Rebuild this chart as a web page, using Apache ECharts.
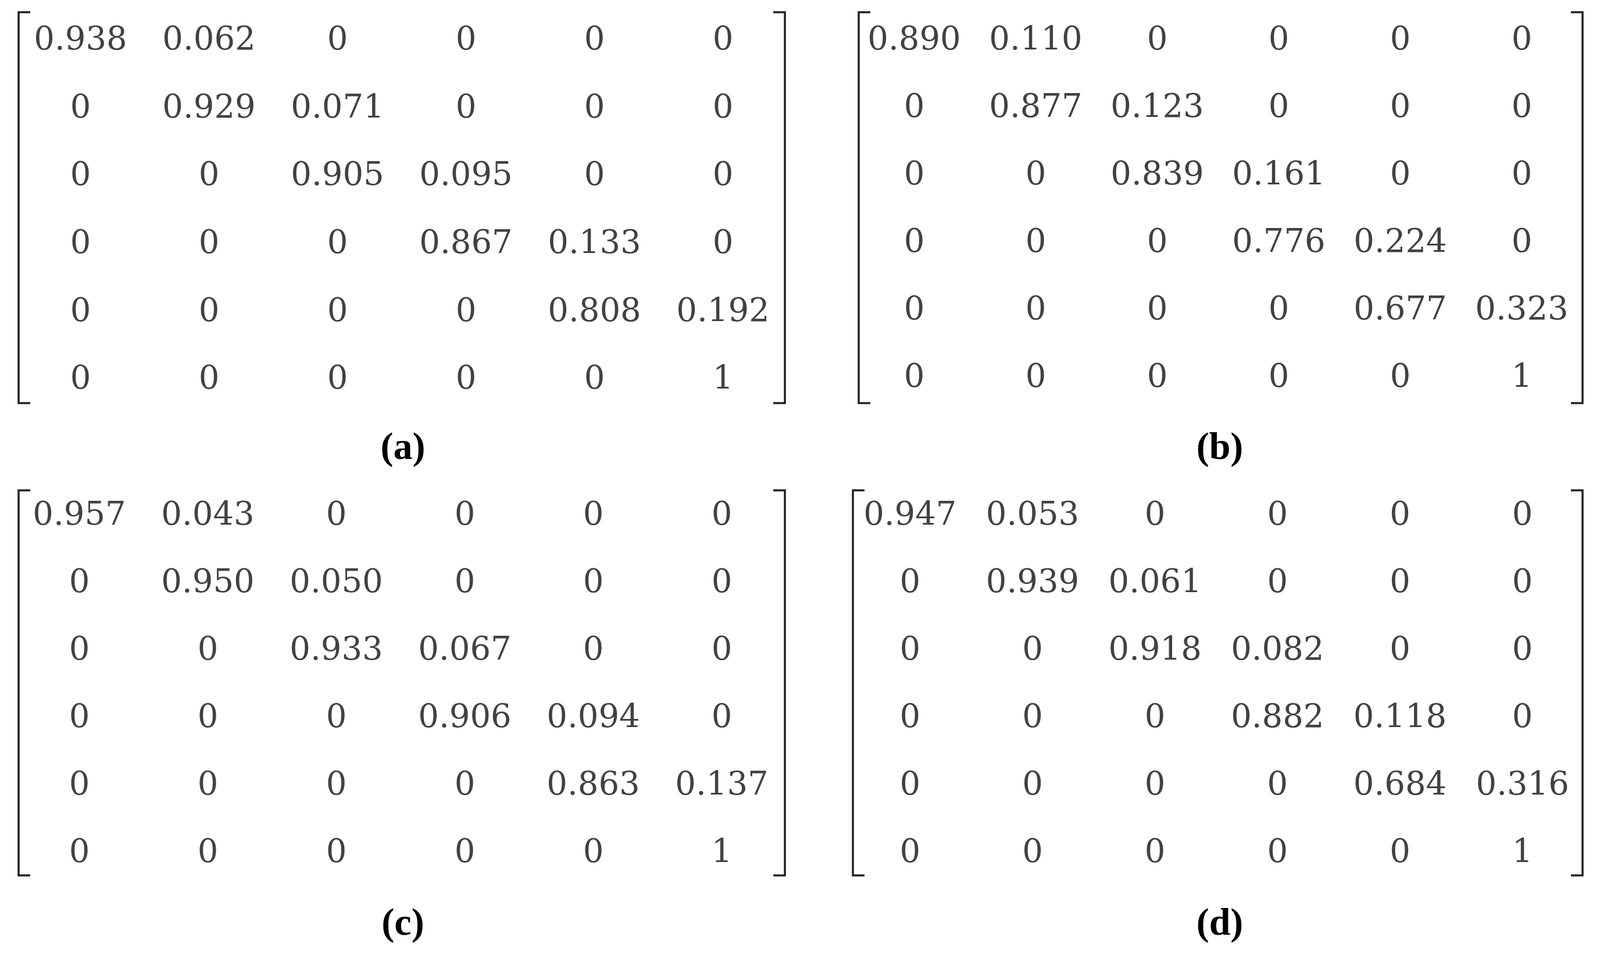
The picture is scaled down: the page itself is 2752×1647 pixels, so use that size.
<!DOCTYPE html>
<html><head><meta charset="utf-8">
<script src="https://cdn.jsdelivr.net/npm/echarts@6/dist/echarts.min.js"></script>
<style>html,body{margin:0;background:#fff}#c{width:2752px;height:1647px}</style>
</head><body><div id="c"></div>
<script>
const matA = [
 ["0.938","0.062","0","0","0","0"],
 ["0","0.929","0.071","0","0","0"],
 ["0","0","0.905","0.095","0","0"],
 ["0","0","0","0.867","0.133","0"],
 ["0","0","0","0","0.808","0.192"],
 ["0","0","0","0","0","1"]];
const matB = [
 ["0.890","0.110","0","0","0","0"],
 ["0","0.877","0.123","0","0","0"],
 ["0","0","0.839","0.161","0","0"],
 ["0","0","0","0.776","0.224","0"],
 ["0","0","0","0","0.677","0.323"],
 ["0","0","0","0","0","1"]];
const matC = [
 ["0.957","0.043","0","0","0","0"],
 ["0","0.950","0.050","0","0","0"],
 ["0","0","0.933","0.067","0","0"],
 ["0","0","0","0.906","0.094","0"],
 ["0","0","0","0","0.863","0.137"],
 ["0","0","0","0","0","1"]];
const matD = [
 ["0.947","0.053","0","0","0","0"],
 ["0","0.939","0.061","0","0","0"],
 ["0","0","0.918","0.082","0","0"],
 ["0","0","0","0.882","0.118","0"],
 ["0","0","0","0","0.684","0.316"],
 ["0","0","0","0","0","1"]];
const panelLabels = ["(a)","(b)","(c)","(d)"];
const mats = [matA, matB, matC, matD];
const idx = [0,1,2,3,4,5];

const grids = [
 {left:28, top:12, width:1326, height:700},
 {left:1468, top:12, width:1254, height:697},
 {left:26, top:829, width:1326, height:697},
 {left:1460, top:829, width:1264, height:697}
];
const brackets = [
 {l:32,r:1350,t:21,b:693},
 {l:1477,r:2722,t:21,b:693},
 {l:32,r:1350,t:843,b:1505},
 {l:1467,r:2722,t:843,b:1505}
];
const labelPos = [[693,772],[2098,772],[693,1590],[2098,1590]];
const font = '"DejaVu Serif","Liberation Serif",serif';
const chart = echarts.init(document.getElementById('c'));
const xAxis=[], yAxis=[], series=[], graphic=[];
mats.forEach((m,k)=>{
  xAxis.push({type:'category',data:idx,gridIndex:k,show:false});
  yAxis.push({type:'category',data:idx,gridIndex:k,show:false,inverse:true});
  const data=[];
  m.forEach((row,r)=>row.forEach((v,c)=>data.push([c,r,v])));
  series.push({type:'scatter',xAxisIndex:k,yAxisIndex:k,symbolSize:0,data,
    label:{show:true,position:'inside',formatter:p=>p.value[2],fontFamily:font,fontSize:56,color:'#111'}});
  const b=brackets[k], w=20, st={stroke:'#222',lineWidth:3.5,fill:null};
  graphic.push({type:'polyline',shape:{points:[[b.l+w,b.t],[b.l,b.t],[b.l,b.b],[b.l+w,b.b]]},style:st});
  graphic.push({type:'polyline',shape:{points:[[b.r-w,b.t],[b.r,b.t],[b.r,b.b],[b.r-w,b.b]]},style:st});
  graphic.push({type:'text',x:labelPos[k][0],y:labelPos[k][1],style:{text:panelLabels[k],font:'bold 66px "Liberation Serif",serif',fill:'#000',textAlign:'center',textVerticalAlign:'middle'}});
});
chart.setOption({animation:false,grid:grids,xAxis,yAxis,series,graphic});
</script></body></html>
